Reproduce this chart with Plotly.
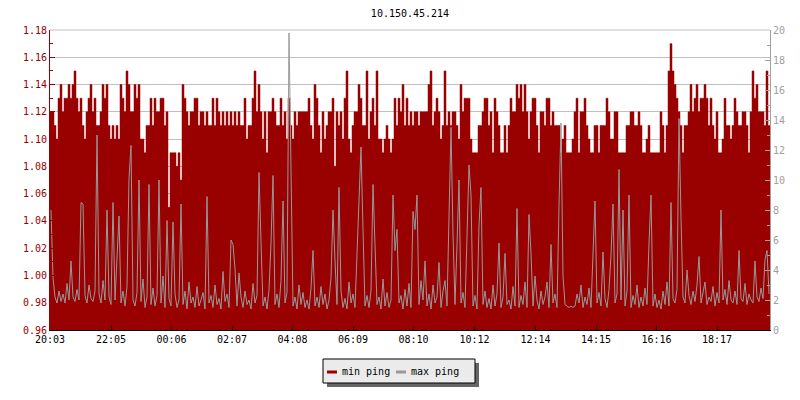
import plotly.graph_objects as go
import pandas as pd

title_text = "10.150.45.214"
start_time = "2024-01-01 20:03"
step_minutes = 4
tick_labels = ["20:03", "22:05", "00:06", "02:07", "04:08", "06:09",
               "08:10", "10:12", "12:14", "14:15", "16:16", "18:17"]
legend_labels = ["min ping", "max ping"]

min_ping = [
    1.12, 1.12, 1.11, 1.10, 1.13, 1.14, 1.12, 1.13, 1.13, 1.14, 1.13, 1.14, 1.15, 1.13, 1.12, 1.13, 1.11, 1.10, 1.12, 1.13,
    1.14, 1.12, 1.13, 1.11, 1.11, 1.12, 1.14, 1.13, 1.14, 1.11, 1.10, 1.11, 1.10, 1.11, 1.10, 1.14, 1.13, 1.12, 1.15, 1.14,
    1.12, 1.12, 1.14, 1.13, 1.14, 1.10, 1.10, 1.09, 1.11, 1.11, 1.13, 1.11, 1.13, 1.12, 1.12, 1.13, 1.13, 1.11, 1.12, 1.05,
    1.09, 1.09, 1.09, 1.08, 1.09, 1.07, 1.14, 1.13, 1.12, 1.11, 1.12, 1.12, 1.13, 1.13, 1.11, 1.12, 1.12, 1.11, 1.12, 1.11,
    1.11, 1.13, 1.11, 1.13, 1.12, 1.11, 1.12, 1.11, 1.12, 1.11, 1.12, 1.11, 1.12, 1.11, 1.12, 1.11, 1.11, 1.13, 1.10, 1.11,
    1.11, 1.13, 1.15, 1.12, 1.14, 1.12, 1.10, 1.12, 1.09, 1.12, 1.12, 1.13, 1.12, 1.11, 1.11, 1.13, 1.11, 1.12, 1.10, 1.13,
    1.11, 1.10, 1.12, 1.11, 1.12, 1.12, 1.12, 1.12, 1.12, 1.13, 1.11, 1.10, 1.14, 1.13, 1.11, 1.09, 1.12, 1.10, 1.11, 1.12,
    1.12, 1.13, 1.08, 1.12, 1.11, 1.12, 1.10, 1.13, 1.15, 1.10, 1.09, 1.11, 1.12, 1.12, 1.14, 1.13, 1.11, 1.11, 1.15, 1.10,
    1.12, 1.13, 1.11, 1.15, 1.10, 1.10, 1.09, 1.10, 1.11, 1.10, 1.09, 1.10, 1.13, 1.11, 1.13, 1.12, 1.14, 1.11, 1.13, 1.11,
    1.12, 1.11, 1.12, 1.12, 1.11, 1.12, 1.12, 1.12, 1.12, 1.14, 1.15, 1.11, 1.12, 1.13, 1.12, 1.10, 1.11, 1.15, 1.11, 1.12,
    1.11, 1.12, 1.12, 1.11, 1.10, 1.14, 1.12, 1.13, 1.13, 1.13, 1.10, 1.09, 1.09, 1.09, 1.11, 1.11, 1.12, 1.13, 1.13, 1.11,
    1.12, 1.09, 1.13, 1.12, 1.11, 1.09, 1.09, 1.11, 1.09, 1.11, 1.13, 1.12, 1.12, 1.14, 1.13, 1.14, 1.12, 1.14, 1.12, 1.10,
    1.12, 1.13, 1.13, 1.11, 1.09, 1.12, 1.12, 1.11, 1.13, 1.13, 1.11, 1.12, 1.11, 1.11, 1.11, 1.09, 1.10, 1.11, 1.09, 1.09,
    1.09, 1.10, 1.12, 1.13, 1.09, 1.12, 1.12, 1.13, 1.11, 1.10, 1.09, 1.09, 1.11, 1.11, 1.09, 1.11, 1.11, 1.11, 1.13, 1.12,
    1.10, 1.10, 1.12, 1.12, 1.09, 1.09, 1.09, 1.09, 1.11, 1.11, 1.12, 1.12, 1.11, 1.11, 1.12, 1.11, 1.09, 1.09, 1.10, 1.11,
    1.09, 1.09, 1.09, 1.09, 1.09, 1.12, 1.11, 1.09, 1.11, 1.15, 1.17, 1.15, 1.14, 1.13, 1.12, 1.11, 1.09, 1.11, 1.11, 1.12,
    1.14, 1.12, 1.13, 1.14, 1.12, 1.13, 1.13, 1.14, 1.13, 1.11, 1.13, 1.11, 1.10, 1.12, 1.09, 1.09, 1.10, 1.13, 1.11, 1.11,
    1.10, 1.11, 1.13, 1.12, 1.11, 1.11, 1.12, 1.12, 1.11, 1.09, 1.12, 1.15, 1.13, 1.14, 1.12, 1.12, 1.12, 1.11, 1.15, 1.11,
]

max_ping = [
    8.0, 3.5, 2.2, 1.8, 2.6, 1.9, 2.4, 1.8, 3.1, 2.0, 4.6, 2.2, 1.9, 2.7, 2.0, 8.5, 8.4, 2.3, 1.8, 3.0,
    2.1, 1.9, 2.6, 13.0, 2.4, 1.8, 3.3, 2.0, 8.0, 2.2, 1.7, 8.5, 2.0, 5.3, 7.6, 1.8, 2.6, 1.6, 2.9, 10.1,
    12.3, 2.0, 1.6, 2.5, 10.0, 1.9, 3.4, 1.5, 2.2, 9.7, 1.7, 2.8, 1.6, 2.3, 10.0, 1.8, 3.6, 1.5, 7.3, 2.1,
    1.6, 7.2, 2.4, 1.5, 2.0, 8.4, 1.7, 2.6, 1.4, 3.2, 1.8, 2.2, 1.5, 2.9, 1.6, 2.0, 2.5, 1.4, 8.9, 1.8,
    2.3, 1.5, 3.0, 1.7, 2.1, 1.4, 3.9, 1.9, 2.4, 1.5, 6.0, 5.7, 4.1, 1.6, 3.8, 2.2, 1.5, 2.6, 1.7, 2.0,
    1.4, 3.1, 1.8, 2.3, 10.5, 5.9, 1.6, 2.2, 1.4, 2.7, 5.8, 10.3, 1.7, 2.4, 1.5, 3.3, 8.6, 1.8, 2.5, 19.8,
    10.6, 1.6, 2.2, 1.4, 3.0, 1.7, 2.5, 1.5, 2.0, 1.4, 2.8, 5.3, 1.6, 2.2, 1.5, 2.9, 1.7, 2.4, 1.4, 2.0,
    3.5, 8.0, 4.6, 1.7, 9.5, 2.6, 1.5, 2.1, 1.4, 3.2, 1.8, 2.4, 1.5, 4.8, 8.3, 12.2, 6.7, 1.6, 2.3, 1.5,
    2.6, 9.7, 5.7, 1.7, 2.2, 1.4, 3.4, 1.6, 2.5, 1.5, 2.0, 9.0, 5.3, 6.7, 1.8, 2.3, 1.4, 2.7, 1.6, 3.1,
    1.5, 7.9, 6.7, 9.0, 1.7, 3.3, 2.0, 4.6, 1.6, 2.4, 1.4, 3.0, 1.8, 2.2, 4.5, 1.5, 2.6, 3.3, 1.6, 7.5,
    13.5, 6.4, 1.7, 5.7, 10.0, 1.8, 2.5, 1.5, 5.9, 11.0, 9.0, 1.6, 2.3, 1.4, 7.0, 9.5, 1.7, 2.6, 1.5, 2.1,
    1.4, 3.0, 1.6, 2.4, 5.8, 1.5, 2.2, 5.1, 1.7, 2.0, 1.4, 2.9, 1.6, 8.1, 1.5, 2.3, 1.7, 3.2, 1.5, 7.7,
    5.1, 1.6, 3.6, 2.0, 1.4, 2.6, 1.7, 2.2, 3.2, 1.5, 5.7, 1.8, 2.4, 1.5, 8.3, 13.8, 3.6, 1.7, 1.6, 1.5,
    1.6, 1.5, 1.6, 2.4, 1.8, 3.0, 1.5, 2.2, 1.7, 2.8, 1.5, 4.9, 8.6, 1.8, 2.5, 1.6, 5.2, 2.1, 1.5, 2.7,
    5.0, 8.4, 1.8, 2.4, 10.7, 2.0, 8.0, 1.6, 2.6, 9.0, 1.5, 2.3, 1.7, 3.0, 1.5, 2.2, 1.6, 2.8, 1.7, 5.8,
    9.0, 1.6, 2.4, 1.5, 2.0, 1.4, 2.6, 1.7, 3.2, 1.6, 8.5, 2.1, 1.8, 2.7, 14.1, 7.5, 2.2, 1.8, 4.0, 2.3,
    1.7, 2.6, 1.9, 3.0, 4.9, 1.8, 2.4, 3.2, 1.7, 2.2, 1.9, 2.9, 1.6, 2.5, 1.8, 8.0, 2.0, 2.7, 1.7, 3.3,
    2.0, 1.8, 2.6, 1.7, 5.3, 2.1, 1.9, 3.1, 1.7, 2.4, 2.0, 1.8, 4.6, 2.2, 1.9, 2.8, 2.1, 4.7, 5.3, 2.4,
]

RED = "#990000"
GRAY = "#999999"
AXGRAY = "#a0a0a0"
FONT = "DejaVu Sans Mono"

times = pd.date_range(start_time, periods=len(min_ping), freq=f"{step_minutes}min")
end_time = times[0] + pd.Timedelta(hours=24)
x_ext = list(times) + [end_time]
min_ext = list(min_ping) + [min_ping[-1]]
half = pd.Timedelta(minutes=step_minutes / 2)
x_mid = [t + half for t in times]

day = times[0].normalize()
tickvals = []
for lab in tick_labels:
    t = pd.Timestamp(f"{day.date()} {lab}")
    if t < times[0]:
        t += pd.Timedelta(days=1)
    tickvals.append(t)

fig = go.Figure()
fig.add_trace(go.Scatter(
    x=x_ext, y=min_ext, mode="lines", name=legend_labels[0],
    line=dict(shape="hv", width=0.5, color=RED),
    fill="tozeroy", fillcolor=RED, yaxis="y", hoverinfo="skip"))
fig.add_trace(go.Scatter(
    x=x_mid, y=max_ping, mode="lines", name=legend_labels[1],
    line=dict(shape="linear", width=1, color=GRAY), yaxis="y2", hoverinfo="skip"))

# page is offset by the 8px body margin of the html page
OFF = 8
L, R, T, B = 50, 770, 30, 330          # plot area in page pixels
W, H = 800, 400

def px(xp):
    return (xp - L) / (R - L)

def py(yp):
    return (B - yp) / (B - T)

shapes = [
    dict(type="line", xref="paper", yref="paper", x0=0, x1=1, y0=1, y1=1,
         line=dict(color="#c0c0c0", width=1), layer="below"),
    dict(type="rect", xref="paper", yref="paper", x0=px(327), x1=px(479), y0=py(387), y1=py(363),
         fillcolor="#666666", line=dict(width=0)),
    dict(type="rect", xref="paper", yref="paper", x0=px(323), x1=px(475), y0=py(383), y1=py(359),
         fillcolor="#ebebeb", line=dict(color="black", width=1)),
    dict(type="line", xref="paper", yref="paper", x0=px(327), x1=px(337), y0=py(372), y1=py(372),
         line=dict(color=RED, width=3)),
    dict(type="line", xref="paper", yref="paper", x0=px(396), x1=px(406), y0=py(372), y1=py(372),
         line=dict(color=GRAY, width=3)),
]
annotations = [
    dict(text=legend_labels[0], xref="paper", yref="paper", x=px(340), y=py(371.5),
         xanchor="left", yanchor="middle", showarrow=False,
         font=dict(family=FONT, size=10, color="black")),
    dict(text=legend_labels[1], xref="paper", yref="paper", x=px(409), y=py(371.5),
         xanchor="left", yanchor="middle", showarrow=False,
         font=dict(family=FONT, size=10, color="black")),
]

fig.update_layout(
    width=W, height=H,
    margin=dict(l=L - OFF, r=W - R + OFF, t=T - OFF, b=H - B + OFF),
    paper_bgcolor="white", plot_bgcolor="white",
    showlegend=False,
    title=dict(text=title_text, x=0.5, xref="paper", xanchor="center",
               y=1 - (13 - OFF) / H, yref="container", yanchor="middle",
               font=dict(family=FONT, size=10, color="black")),
    font=dict(family=FONT, size=10),
    xaxis=dict(type="date", range=[times[0], end_time],
               tickvals=tickvals, ticktext=tick_labels,
               ticks="inside", ticklen=4, tickcolor="black",
               showline=True, linecolor="black", linewidth=1,
               showgrid=False, zeroline=False,
               tickfont=dict(family=FONT, size=10, color="black")),
    yaxis=dict(range=[0.96, 1.18], tick0=0.96, dtick=0.02, tickformat=".2f",
               ticks="inside", ticklen=5, tickcolor=RED,
               showline=True, linecolor=RED, linewidth=1,
               showgrid=True, gridcolor="#c0c0c0", gridwidth=1, zeroline=False,
               tickfont=dict(family=FONT, size=10, color=RED),
               minor=dict(dtick=0.01, tick0=0.96, ticks="inside", ticklen=3,
                          tickcolor=RED, showgrid=False)),
    yaxis2=dict(overlaying="y", side="right", range=[0, 20], tick0=0, dtick=2,
                ticks="inside", ticklen=5, tickcolor=AXGRAY,
                showline=True, linecolor=AXGRAY, linewidth=1,
                showgrid=False, zeroline=False,
                tickfont=dict(family=FONT, size=10, color=AXGRAY),
                minor=dict(dtick=1, tick0=0, ticks="inside", ticklen=3,
                           tickcolor=AXGRAY, showgrid=False)),
    shapes=shapes,
    annotations=annotations,
)

fig.write_html("out.html")
